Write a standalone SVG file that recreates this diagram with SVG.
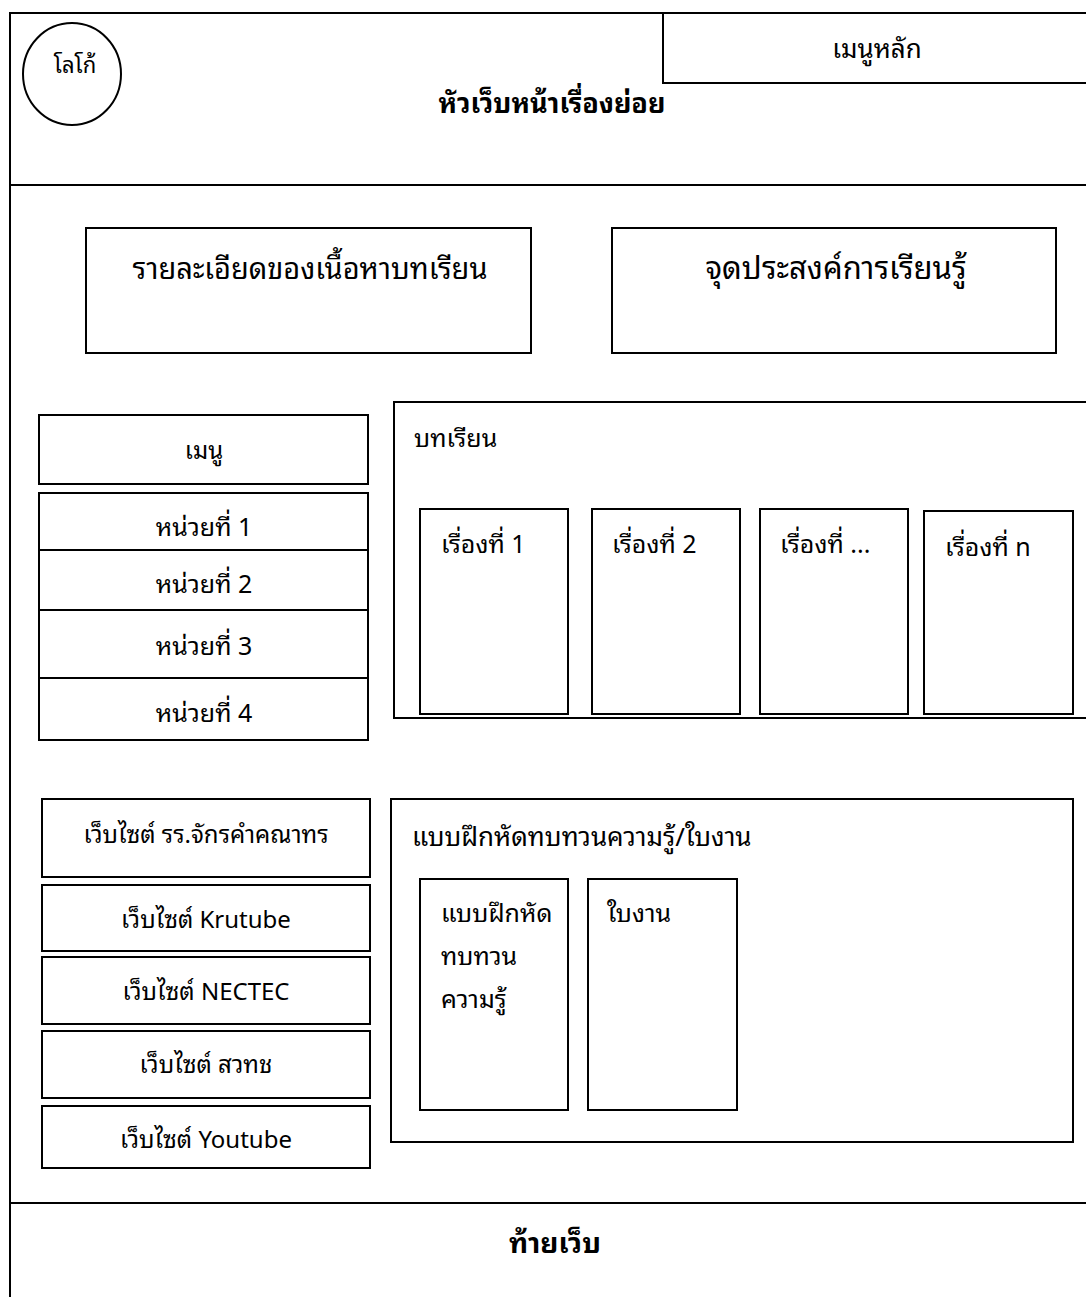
<svg xmlns="http://www.w3.org/2000/svg" width="1086" height="1297" viewBox="0 0 1086 1297">
<style>
.b{fill:none;stroke:#000;stroke-width:2}
.n{font-family:"Noto Sans Thai Looped","Noto Sans Thai","Noto Sans","DejaVu Sans",sans-serif;fill:#000}
.s{font-family:"Noto Sans Thai Looped","Noto Sans Thai","Noto Sans","DejaVu Sans",sans-serif;fill:#000}
.c{text-anchor:middle}
.bold{font-weight:bold}
</style>
<rect width="1086" height="1297" fill="#fff"/>
<g id="frame">
<line class="b" x1="10" y1="13" x2="1086" y2="13"/>
<line class="b" x1="10" y1="12" x2="10" y2="1297"/>
<line class="b" x1="10" y1="185" x2="1086" y2="185"/>
<line class="b" x1="10" y1="1203" x2="1086" y2="1203"/>
</g>
<g id="logo">
<ellipse class="b" cx="72" cy="74" rx="49" ry="51"/>
<text class="n c" x="75" y="73" font-size="22">โลโก้</text>
</g>
<g id="main-menu">
<path class="b" d="M1086 83 H663 V13"/>
<text class="n c" x="877" y="58" font-size="26">เมนูหลัก</text>
</g>
<g id="header-title">
<text class="n c bold" x="552" y="113" font-size="27">หัวเว็บหน้าเรื่องย่อย</text>
</g>
<g id="content-detail">
<rect class="b" x="86" y="228" width="445" height="125"/>
<text class="n c" x="310" y="279" font-size="29">รายละเอียดของเนื้อหาบทเรียน</text>
</g>
<g id="objectives">
<rect class="b" x="612" y="228" width="444" height="125"/>
<text class="n c" x="836" y="279" font-size="31">จุดประสงค์การเรียนรู้</text>
</g>
<g id="menu">
<rect class="b" x="39" y="415" width="329" height="69"/>
<text class="s c" x="204" y="459" font-size="24">เมนู</text>
</g>
<g id="units">
<rect class="b" x="39" y="493" width="329" height="247"/>
<line class="b" x1="39" y1="550" x2="368" y2="550"/>
<line class="b" x1="39" y1="610" x2="368" y2="610"/>
<line class="b" x1="39" y1="678" x2="368" y2="678"/>
<text class="s c" x="204" y="536" font-size="25">หน่วยที่ 1</text>
<text class="s c" x="204" y="593" font-size="25">หน่วยที่ 2</text>
<text class="s c" x="204" y="655" font-size="25">หน่วยที่ 3</text>
<text class="s c" x="204" y="722" font-size="25">หน่วยที่ 4</text>
</g>
<g id="lessons">
<path class="b" d="M1086 402 H394 V718 H1086"/>
<text class="n" x="414" y="447" font-size="25">บทเรียน</text>
</g>
<g id="topic-1">
<rect class="b" x="420" y="509" width="148" height="205"/>
<text class="n" x="441" y="553" font-size="25">เรื่องที่ 1</text>
</g>
<g id="topic-2">
<rect class="b" x="592" y="509" width="148" height="205"/>
<text class="n" x="612" y="553" font-size="25">เรื่องที่ 2</text>
</g>
<g id="topic-3">
<rect class="b" x="760" y="509" width="148" height="205"/>
<text class="n" x="780" y="553" font-size="25">เรื่องที่ ...</text>
</g>
<g id="topic-n">
<rect class="b" x="924" y="511" width="149" height="203"/>
<text class="n" x="945" y="556" font-size="25">เรื่องที่ n</text>
</g>
<g id="link-school">
<rect class="b" x="42" y="799" width="328" height="78"/>
<text class="s c" x="206" y="843" font-size="24">เว็บไซต์ รร.จักรคำคณาทร</text>
</g>
<g id="link-krutube">
<rect class="b" x="42" y="885" width="328" height="66"/>
<text class="s c" x="206" y="928" font-size="24">เว็บไซต์ Krutube</text>
</g>
<g id="link-nectec">
<rect class="b" x="42" y="957" width="328" height="67"/>
<text class="s c" x="206" y="1000" font-size="24">เว็บไซต์ NECTEC</text>
</g>
<g id="link-nstda">
<rect class="b" x="42" y="1031" width="328" height="67"/>
<text class="s c" x="206" y="1073" font-size="24">เว็บไซต์ สวทช</text>
</g>
<g id="link-youtube">
<rect class="b" x="42" y="1106" width="328" height="62"/>
<text class="s c" x="206" y="1148" font-size="24">เว็บไซต์ Youtube</text>
</g>
<g id="exercises">
<rect class="b" x="391" y="799" width="682" height="343"/>
<text class="n" x="412" y="846" font-size="26">แบบฝึกหัดทบทวนความรู้/ใบงาน</text>
</g>
<g id="exercise">
<rect class="b" x="420" y="879" width="148" height="231"/>
<text class="n" x="441" y="922" font-size="25">แบบฝึกหัด</text>
<text class="n" x="441" y="965" font-size="25">ทบทวน</text>
<text class="n" x="441" y="1008" font-size="25">ความรู้</text>
</g>
<g id="worksheet">
<rect class="b" x="588" y="879" width="149" height="231"/>
<text class="n" x="607" y="922" font-size="25">ใบงาน</text>
</g>
<g id="footer">
<text class="n c bold" x="555" y="1253" font-size="28">ท้ายเว็บ</text>
</g>
<g id="connectors"></g>
</svg>
